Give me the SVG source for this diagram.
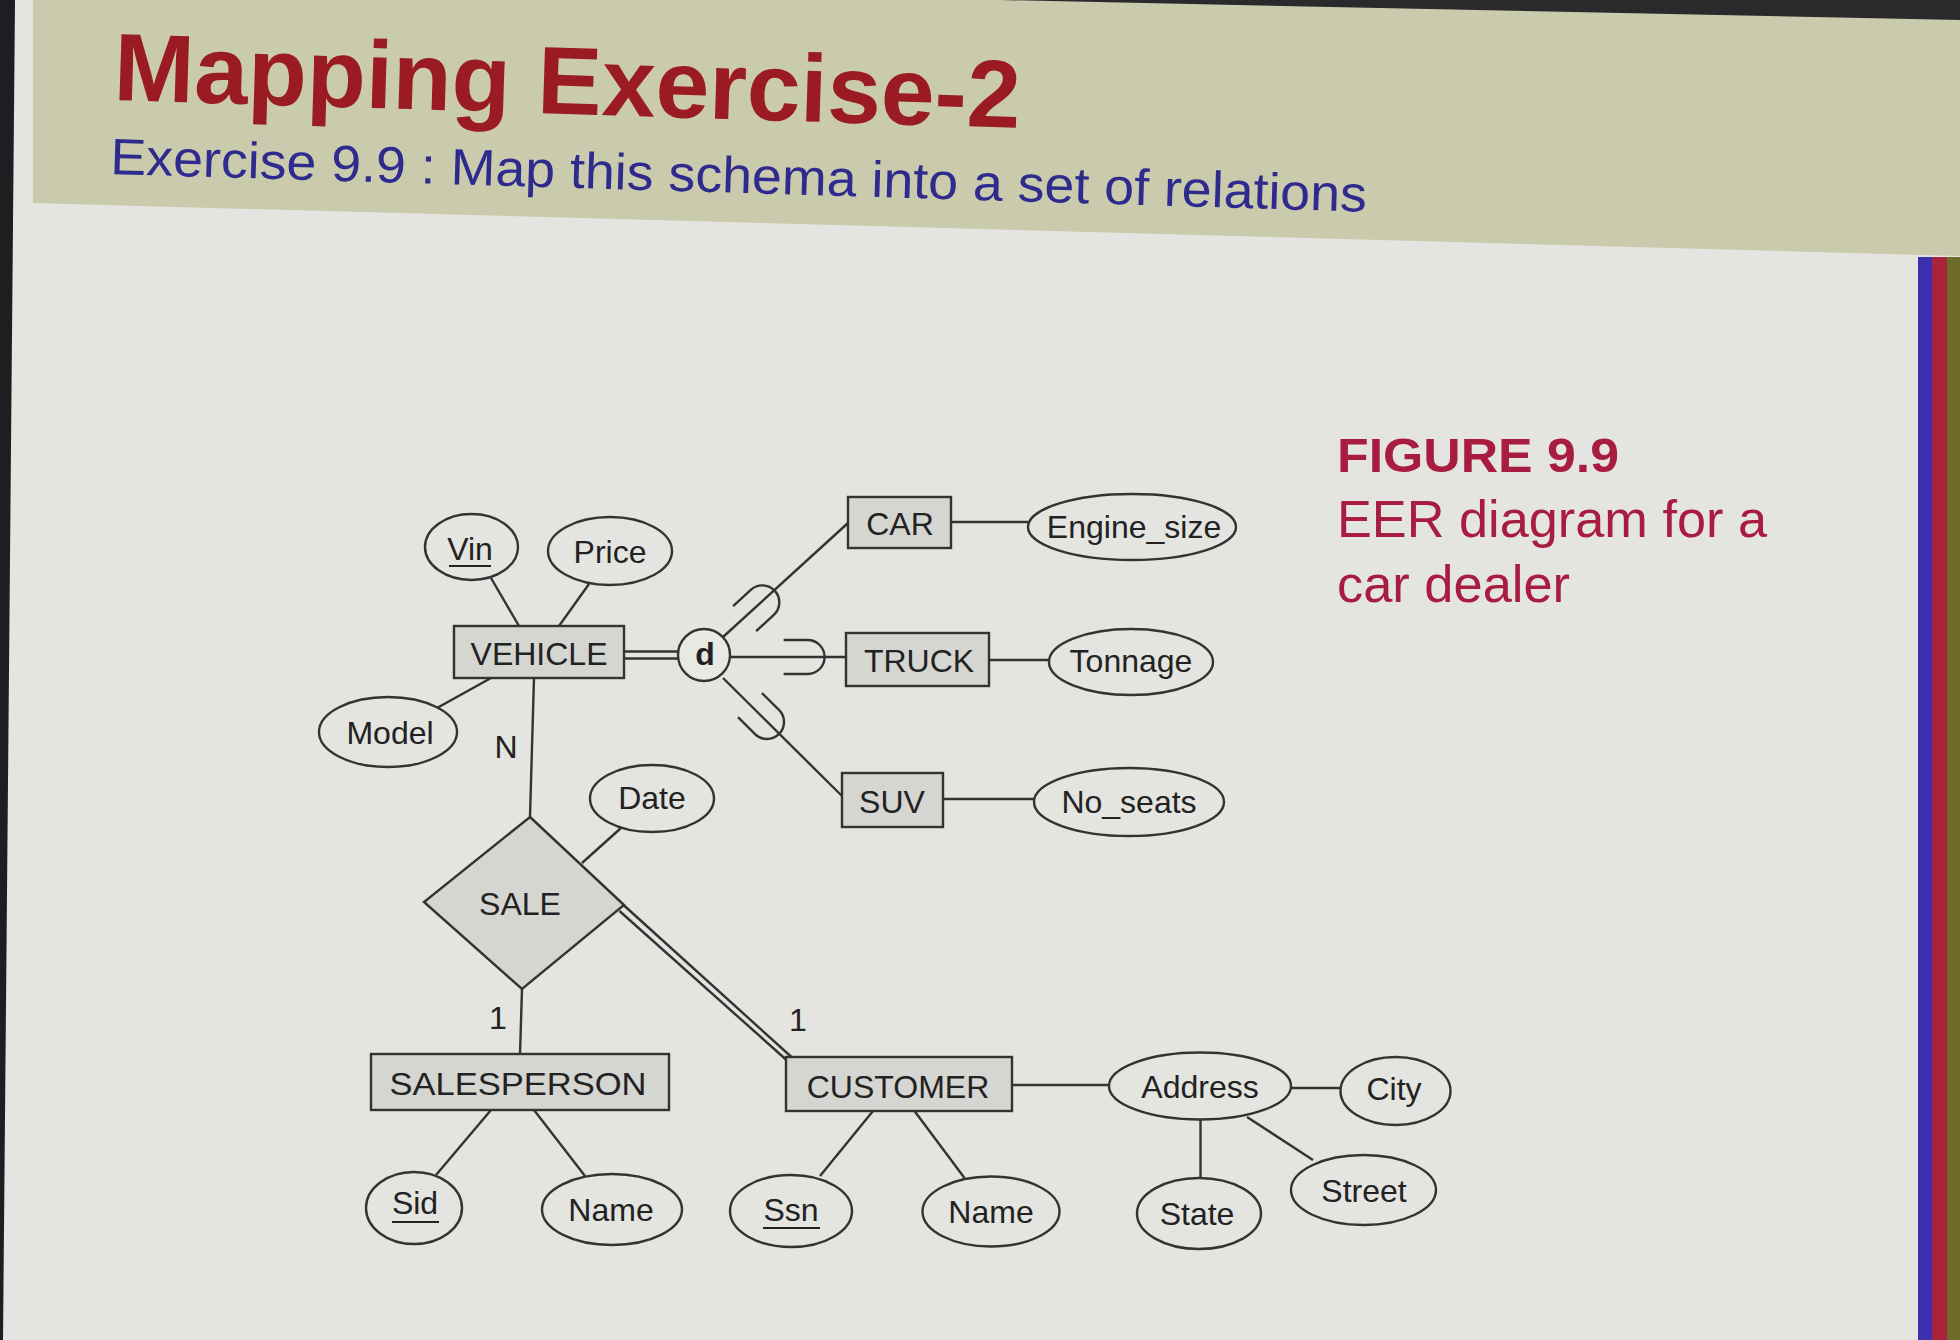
<svg xmlns="http://www.w3.org/2000/svg" xmlns:xlink="http://www.w3.org/1999/xlink" width="1960" height="1340" viewBox="0 0 1960 1340">
<style>
.bg{fill:#e4e4e0}
.ent{fill:#d5d5d1;stroke:#333;stroke-width:2.4}
.rel{fill:#d5d5d1;stroke:#333;stroke-width:2.4}
.att{fill:none;stroke:#333;stroke-width:2.4}
.ln{stroke:#333;stroke-width:2.4;fill:none}
.t{font-family:"Liberation Sans",Arial,sans-serif;font-size:32px;fill:#222;text-anchor:middle}
.ul{stroke:#222;stroke-width:2}
</style>
<defs>
<path id="sub" d="M -24,-17 H 0 A 17 17 0 0 1 0,17 H -24" fill="none" stroke="#333" stroke-width="2.4"/>
</defs>
<rect class="bg" x="0" y="0" width="1960" height="1340"/>
<polygon points="33,0 1960,0 1960,256 33,203" fill="#c9cbac"/>
<polygon points="1000,0 1960,0 1960,20" fill="#2a2a2c"/>
<polygon points="0,0 15,0 3,1340 0,1340" fill="#1e1e22"/>
<rect x="1918" y="257" width="14" height="1083" fill="#3a30b0"/>
<rect x="1932" y="257" width="15" height="1083" fill="#a8243a"/>
<rect x="1947" y="257" width="13" height="1083" fill="#6e6a2a"/>

<g id="title">
<text x="113" y="100" transform="rotate(1.77 113 100)" font-family="'Liberation Sans',Arial,sans-serif" font-weight="bold" font-size="96" fill="#9a1b22" textLength="907" lengthAdjust="spacingAndGlyphs">Mapping Exercise-2</text>
<text x="110" y="174" transform="rotate(1.72 110 174)" font-family="'Liberation Sans',Arial,sans-serif" font-size="51" fill="#2e2a8e" textLength="1257" lengthAdjust="spacingAndGlyphs">Exercise 9.9 : Map this schema into a set of relations</text>
</g>

<g id="caption" font-family="'Liberation Sans',Arial,sans-serif" fill="#a81c40">
<text x="1337" y="472" font-size="48" font-weight="bold" textLength="282" lengthAdjust="spacingAndGlyphs">FIGURE 9.9</text>
<text x="1337" y="537" font-size="52" textLength="430" lengthAdjust="spacingAndGlyphs">EER diagram for a</text>
<text x="1337" y="602" font-size="52" textLength="233" lengthAdjust="spacingAndGlyphs">car dealer</text>
</g>

<g id="connectors">
<line class="ln" x1="491" y1="578" x2="519" y2="626"/>
<line class="ln" x1="589" y1="584" x2="559" y2="626"/>
<line class="ln" x1="437" y1="708" x2="491" y2="678"/>
<line class="ln" x1="624" y1="651.5" x2="679" y2="651.5"/>
<line class="ln" x1="624" y1="658.5" x2="679" y2="658.5"/>
<line class="ln" x1="723" y1="637" x2="848" y2="523"/>
<line class="ln" x1="730" y1="657" x2="846" y2="657"/>
<line class="ln" x1="723" y1="678" x2="843" y2="797"/>
<use xlink:href="#sub" href="#sub" transform="translate(762.3 602.4) rotate(-42.6)"/>
<use xlink:href="#sub" href="#sub" transform="translate(807.6 657)"/>
<use xlink:href="#sub" href="#sub" transform="translate(767 722) rotate(44.7)"/>
<line class="ln" x1="951" y1="522" x2="1028" y2="522"/>
<line class="ln" x1="989" y1="660" x2="1050" y2="660"/>
<line class="ln" x1="943" y1="799" x2="1034" y2="799"/>
<line class="ln" x1="534" y1="678" x2="530" y2="817"/>
<line class="ln" x1="621" y1="828" x2="582" y2="863"/>
<line class="ln" x1="522" y1="989" x2="520" y2="1054"/>
<line class="ln" x1="623.5" y1="905" x2="791.5" y2="1057"/>
<line class="ln" x1="619.5" y1="911" x2="786.5" y2="1060"/>
<line class="ln" x1="1012" y1="1085" x2="1109" y2="1085"/>
<line class="ln" x1="1291" y1="1088" x2="1341" y2="1088"/>
<line class="ln" x1="1200.5" y1="1119" x2="1200.5" y2="1178"/>
<line class="ln" x1="1247" y1="1117" x2="1313" y2="1160"/>
<line class="ln" x1="491" y1="1110" x2="436" y2="1175"/>
<line class="ln" x1="534" y1="1110" x2="585" y2="1176"/>
<line class="ln" x1="873" y1="1111" x2="820" y2="1176"/>
<line class="ln" x1="914.5" y1="1111" x2="964.5" y2="1178"/>
</g>

<g id="labels">
<text class="t" x="506" y="758">N</text>
<text class="t" x="498" y="1029">1</text>
<text class="t" x="798" y="1031">1</text>
</g>

<g id="VEHICLE"><rect class="ent" x="454" y="626" width="170" height="52"/><text class="t" x="539" y="665">VEHICLE</text></g>
<g id="d_circle"><circle cx="704" cy="655" r="26" fill="#e8e8e4" stroke="#333" stroke-width="2.4"/><text class="t" x="705" y="665" font-weight="bold" font-size="30">d</text></g>
<g id="CAR"><rect class="ent" x="848" y="497" width="103" height="51"/><text class="t" x="900" y="535">CAR</text></g>
<g id="TRUCK"><rect class="ent" x="846" y="633" width="143" height="53"/><text class="t" x="919" y="672">TRUCK</text></g>
<g id="SUV"><rect class="ent" x="842" y="773" width="101" height="54"/><text class="t" x="892" y="813">SUV</text></g>
<g id="SALE"><polygon class="rel" points="530,817 624,905 522,989 424,902"/><text class="t" x="520" y="915">SALE</text></g>
<g id="SALESPERSON"><rect class="ent" x="371" y="1054" width="298" height="56"/><text class="t" x="518" y="1095" textLength="257" lengthAdjust="spacingAndGlyphs">SALESPERSON</text></g>
<g id="CUSTOMER"><rect class="ent" x="786" y="1057" width="226" height="54"/><text class="t" x="898" y="1098">CUSTOMER</text></g>

<g id="Vin"><ellipse class="att" cx="471.5" cy="547" rx="46.5" ry="33"/><text class="t" x="470" y="560" font-size="31">Vin</text><line class="ul" x1="449" y1="566" x2="491" y2="566"/></g>
<g id="Price"><ellipse class="att" cx="610" cy="551" rx="62" ry="34"/><text class="t" x="610" y="563" font-size="31">Price</text></g>
<g id="Model"><ellipse class="att" cx="388" cy="732" rx="69" ry="35"/><text class="t" x="390" y="744">Model</text></g>
<g id="Date"><ellipse class="att" cx="652" cy="798.5" rx="62" ry="33.5"/><text class="t" x="652" y="809" font-size="31">Date</text></g>
<g id="Engine_size"><ellipse class="att" cx="1132" cy="527" rx="104" ry="33"/><text class="t" x="1134" y="538" font-size="31">Engine_size</text></g>
<g id="Tonnage"><ellipse class="att" cx="1131" cy="662" rx="82" ry="33"/><text class="t" x="1131" y="672" font-size="30">Tonnage</text></g>
<g id="No_seats"><ellipse class="att" cx="1129" cy="802" rx="95" ry="34"/><text class="t" x="1129" y="813">No_seats</text></g>
<g id="Address"><ellipse class="att" cx="1200" cy="1086" rx="91" ry="33.5"/><text class="t" x="1200" y="1098">Address</text></g>
<g id="City"><ellipse class="att" cx="1395.5" cy="1091" rx="55" ry="34"/><text class="t" x="1394" y="1100">City</text></g>
<g id="Sid"><ellipse class="att" cx="414" cy="1208" rx="48" ry="36"/><text class="t" x="415" y="1214">Sid</text><line class="ul" x1="392" y1="1222" x2="439" y2="1222"/></g>
<g id="Name_salesperson"><ellipse class="att" cx="612" cy="1209.5" rx="70" ry="35.5"/><text class="t" x="611" y="1221">Name</text></g>
<g id="Ssn"><ellipse class="att" cx="791" cy="1211" rx="61" ry="36"/><text class="t" x="791" y="1221">Ssn</text><line class="ul" x1="763" y1="1228" x2="820" y2="1228"/></g>
<g id="Name_customer"><ellipse class="att" cx="991" cy="1211.5" rx="68.5" ry="35"/><text class="t" x="991" y="1223">Name</text></g>
<g id="State"><ellipse class="att" cx="1199" cy="1213.5" rx="62" ry="35.5"/><text class="t" x="1197" y="1225">State</text></g>
<g id="Street"><ellipse class="att" cx="1363.5" cy="1190" rx="72.5" ry="35"/><text class="t" x="1364" y="1202">Street</text></g>
</svg>
